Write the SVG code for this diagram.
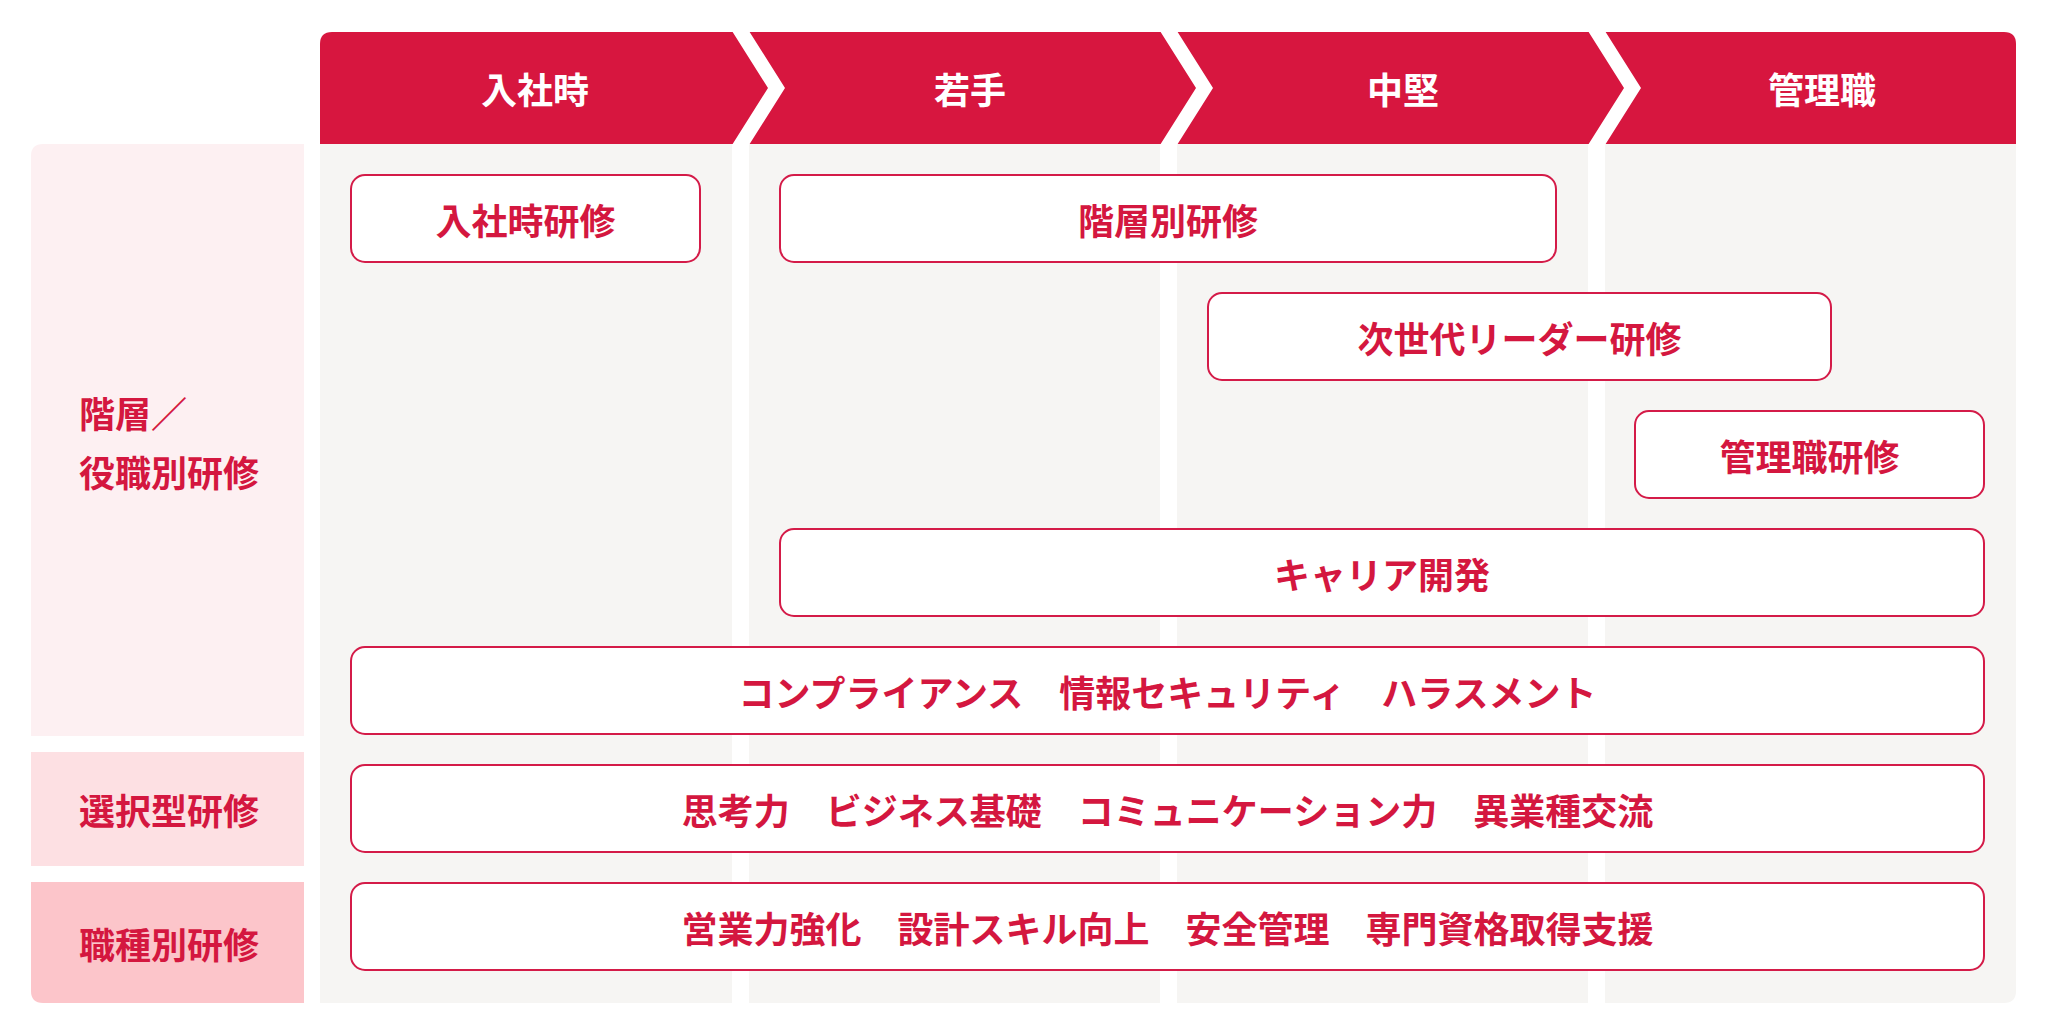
<svg xmlns="http://www.w3.org/2000/svg" width="2048" height="1036" viewBox="0 0 2048 1036">
  <style>
    text { font-family: "Noto Sans CJK JP", "Noto Sans", sans-serif; font-weight: 700; font-size: 36px; }
    .hdr { fill: #ffffff; text-anchor: middle; dominant-baseline: central; }
    .lbl { fill: #d4173f; text-anchor: start; dominant-baseline: central; }
    .box rect { fill: #ffffff; stroke: #d41b48; stroke-width: 2; }
    .box text { fill: #d4173f; text-anchor: middle; dominant-baseline: central; }
    .col { fill: #f6f5f3; }
    .stripe { fill: #ffffff; }
  </style>
  <rect x="0" y="0" width="2048" height="1036" fill="#ffffff"/>

  <!-- column backgrounds -->
  <g id="columns">
    <rect class="col" x="320" y="144" width="412" height="859"/>
    <rect class="col" x="749" y="144" width="411" height="859"/>
    <rect class="col" x="1177" y="144" width="411" height="859"/>
    <path class="col" d="M1605,144 H2016 V991 Q2016,1003 2004,1003 H1605 Z"/>
  </g>

  <!-- header band -->
  <g id="header">
    <path d="M332,32 H2004 Q2016,32 2016,44 V144 H320 V44 Q320,32 332,32 Z" fill="#d7163f"/>
    <polygon class="stripe" points="732,31 749,31 785,88 749,145 732,145 768,88"/>
    <polygon class="stripe" points="1160,31 1177,31 1213,88 1177,145 1160,145 1196,88"/>
    <polygon class="stripe" points="1588,31 1605,31 1641,88 1605,145 1588,145 1624,88"/>
  </g>
  <g id="stage-nyusha"><text class="hdr" x="535" y="88">入社時</text></g>
  <g id="stage-wakate"><text class="hdr" x="970" y="88">若手</text></g>
  <g id="stage-chuken"><text class="hdr" x="1403" y="88">中堅</text></g>
  <g id="stage-kanrishoku"><text class="hdr" x="1822" y="88">管理職</text></g>

  <!-- row labels -->
  <g id="label-kaiso">
    <path d="M43,144 H304 V736 H31 V156 Q31,144 43,144 Z" fill="#fdf0f2"/>
    <text class="lbl" x="79" y="412">階層／</text>
    <text class="lbl" x="79" y="471">役職別研修</text>
  </g>
  <g id="label-sentaku">
    <rect x="31" y="752" width="273" height="114" fill="#fde0e3"/>
    <text class="lbl" x="79" y="809">選択型研修</text>
  </g>
  <g id="label-shokushu">
    <path d="M31,882 H304 V1003 H43 Q31,1003 31,991 Z" fill="#fcc5ca"/>
    <text class="lbl" x="79" y="943">職種別研修</text>
  </g>

  <!-- training boxes -->
  <g id="box-nyusha" class="box">
    <rect x="351" y="175" width="349" height="87" rx="14"/>
    <text x="525.5" y="218.5">入社時研修</text>
  </g>
  <g id="box-kaisobetsu" class="box">
    <rect x="780" y="175" width="776" height="87" rx="14"/>
    <text x="1168" y="218.5">階層別研修</text>
  </g>
  <g id="box-jisedai" class="box">
    <rect x="1208" y="293" width="623" height="87" rx="14"/>
    <text x="1519.5" y="336.5">次世代リーダー研修</text>
  </g>
  <g id="box-kanrishoku" class="box">
    <rect x="1635" y="411" width="349" height="87" rx="14"/>
    <text x="1809.5" y="454.5">管理職研修</text>
  </g>
  <g id="box-career" class="box">
    <rect x="780" y="529" width="1204" height="87" rx="14"/>
    <text x="1382" y="572.5">キャリア開発</text>
  </g>
  <g id="box-compliance" class="box">
    <rect x="351" y="647" width="1633" height="87" rx="14"/>
    <text x="1167.5" y="690.5">コンプライアンス　情報セキュリティ　ハラスメント</text>
  </g>
  <g id="box-sentaku" class="box">
    <rect x="351" y="765" width="1633" height="87" rx="14"/>
    <text x="1167.5" y="808.5">思考力　ビジネス基礎　コミュニケーション力　異業種交流</text>
  </g>
  <g id="box-shokushu" class="box">
    <rect x="351" y="883" width="1633" height="87" rx="14"/>
    <text x="1167.5" y="926.5">営業力強化　設計スキル向上　安全管理　専門資格取得支援</text>
  </g>

  <g id="connectors"/>
</svg>
